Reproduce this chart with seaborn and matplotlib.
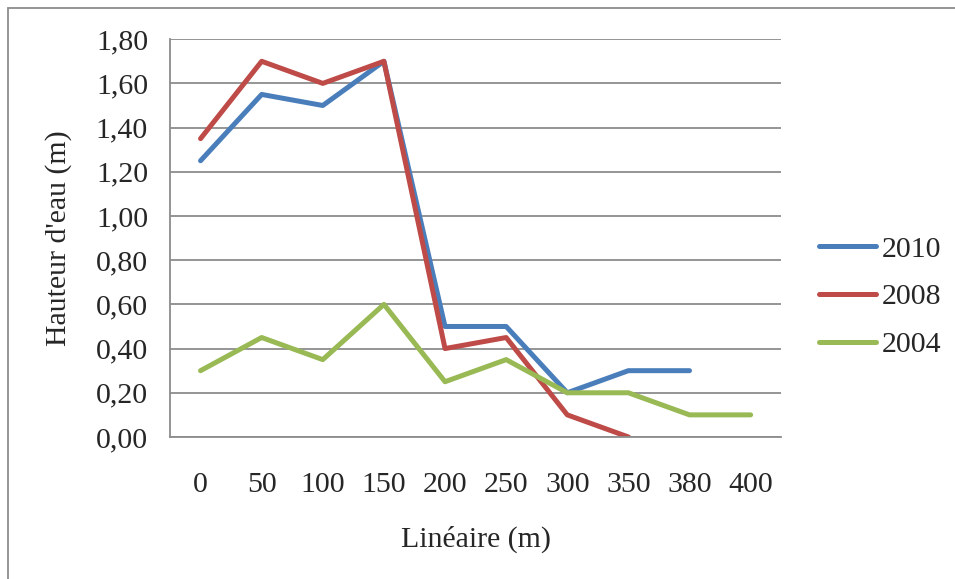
"""Water height along the linear profile, Excel-style line chart."""

import matplotlib

matplotlib.use("Agg", force=True)

import matplotlib.pyplot as plt
import numpy as np
import pandas as pd
import seaborn as sns
from matplotlib.patches import Rectangle
from matplotlib.ticker import FixedLocator, FuncFormatter

# data
distances = ["0", "50", "100", "150", "200", "250", "300", "350", "380", "400"]
h_2010 = [1.25, 1.55, 1.50, 1.70, 0.50, 0.50, 0.20, 0.30, 0.30, np.nan]
h_2008 = [1.35, 1.70, 1.60, 1.70, 0.40, 0.45, 0.10, 0.00, np.nan, np.nan]
h_2004 = [0.30, 0.45, 0.35, 0.60, 0.25, 0.35, 0.20, 0.20, 0.10, 0.10]
years = ["2010", "2008", "2004"]
colors = {"2010": "#4A7EBB", "2008": "#BE4B48", "2004": "#98B954"}

frames = []
for year, values in zip(years, [h_2010, h_2008, h_2004]):
    frames.append(pd.DataFrame({"pos": range(len(distances)), "height": values, "year": year}))
df = pd.concat(frames, ignore_index=True).dropna()

sns.set_style("white")
plt.rcParams["font.family"] = ["Liberation Serif", "DejaVu Serif"]
plt.rcParams["font.size"] = 21.5

fig = plt.figure(figsize=(9.55, 5.79), dpi=100)
ax = fig.add_axes([0.178, 0.2453, 0.640, 0.687])

lw = 3.6
sns.lineplot(
    data=df, x="pos", y="height", hue="year", hue_order=years, palette=colors,
    linewidth=lw, sort=False, ax=ax, solid_capstyle="round", solid_joinstyle="round",
)

grey = "#8c8c8c"
ax.set_xlim(-0.5, len(distances) - 0.5)
ax.set_ylim(0, 1.8)
ax.set_yticks(np.arange(0, 1.81, 0.2))
ax.yaxis.set_major_formatter(FuncFormatter(lambda v, _: f"{v:.2f}".replace(".", ",")))
ax.grid(axis="y", color=grey, linewidth=1.3)
ax.set_axisbelow(True)

# category boundaries carry the tick marks, centres carry the labels
ax.xaxis.set_major_locator(FixedLocator(np.arange(-0.5, len(distances), 1.0)))
ax.xaxis.set_major_formatter(FuncFormatter(lambda v, _: ""))
ax.xaxis.set_minor_locator(FixedLocator(range(len(distances))))
ax.set_xticklabels(distances, minor=True)
ax.tick_params(axis="x", which="major", length=5.8, width=1.3, color=grey, direction="out")
ax.tick_params(axis="x", which="minor", length=0, pad=25)
ax.tick_params(axis="y", length=5.8, width=1.3, color=grey, direction="out", pad=10)

for side in ["top", "right"]:
    ax.spines[side].set_visible(False)
for side in ["left", "bottom"]:
    ax.spines[side].set_color(grey)
    ax.spines[side].set_linewidth(1.3)

ax.set_xlabel("Linéaire (m)", labelpad=20)
ax.set_ylabel("Hauteur d'eau (m)", labelpad=17)

handles, labels = ax.get_legend_handles_labels()
leg = ax.legend(
    handles, labels, loc="center left", bbox_to_anchor=(0.858, 0.487),
    bbox_transform=fig.transFigure, frameon=False, borderpad=0, borderaxespad=0,
    handlelength=1.9, handletextpad=0.2, labelspacing=0.7,
)
for line in leg.get_lines():
    line.set_linewidth(lw)
    line.set_solid_capstyle("round")

# chart-area border, cut by the image edges on the right and bottom
x0, y_top = 8 / 955, 1 - 8 / 579
fig.patches.append(
    Rectangle((x0, -0.2), 1.2, y_top + 0.2, transform=fig.transFigure,
              fill=False, edgecolor=grey, linewidth=1.3, clip_on=False)
)

fig.savefig("out.png", dpi=100)
plt.close(fig)
